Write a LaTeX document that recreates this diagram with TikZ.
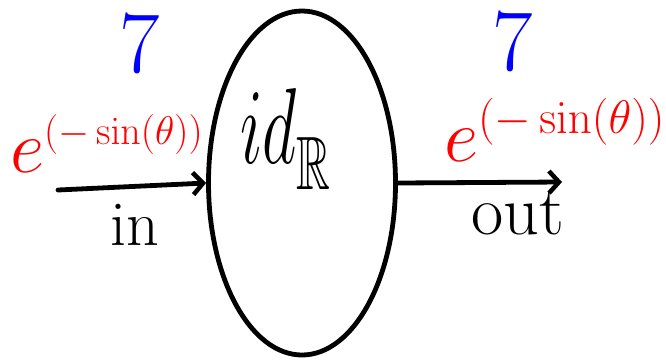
\RequirePackage{fix-cm}
\documentclass[tikz,border=0pt]{standalone}
\usepackage{amssymb}
\usepackage{graphicx}
\usetikzlibrary{arrows.meta,shapes.geometric}
\definecolor{penred}{RGB}{255,0,0}
\definecolor{penblue}{RGB}{0,0,255}
\begin{document}
\begin{tikzpicture}[x=1pt,y=-1pt,
  pen/.style={line width=4.8pt, line cap=round, line join=round},
  tipped/.style={-{Straight Barb[length=10pt,width=22pt,line width=4.5pt]}},
  typelabel/.style={text=penred, inner sep=0pt, anchor=base west},
  termlabel/.style={text=penblue, inner sep=0pt, anchor=base, font=\fontsize{88}{88}\selectfont},
  wirelabel/.style={text=black, inner sep=0pt, anchor=base}]
\useasboundingbox (0,0) rectangle (666,360);
\node[draw, ellipse, pen, minimum width=187pt, minimum height=344pt, inner sep=0pt] (f) at (302,183) {};
\node[anchor=base west, inner sep=0pt] (flabel) at (240,163)
  {\fontsize{108}{108}\selectfont\scalebox{0.62}[1]{$id_{\raisebox{-10pt}{$\scriptstyle\mathbb{R}$}}$}};
\coordinate (inL) at (58,190);
\coordinate (outR) at (562,182);
\draw[pen,tipped] (inL) -- (f.west);
\draw[pen,tipped] (f.east) -- (outR);
\node[termlabel] (sevenL) at (140,72) {7};
\node[termlabel] (sevenR) at (513,70) {7};
\node[typelabel] (typeL) at (10,172)
  {\fontsize{75}{75}\selectfont$e^{\hbox{\fontsize{40}{40}\selectfont$(-\sin(\theta))$}}$};
\node[typelabel] (typeR) at (444,161)
  {\fontsize{75}{75}\selectfont$e^{\hbox{\fontsize{47}{47}\selectfont$(-\sin(\theta))$}}$};
\node[wirelabel, font=\fontsize{64}{64}\selectfont] (inlabel) at (135,245) {in};
\node[wirelabel, font=\fontsize{70}{70}\selectfont] (outlabel) at (518,234) {out};
\end{tikzpicture}
\end{document}
